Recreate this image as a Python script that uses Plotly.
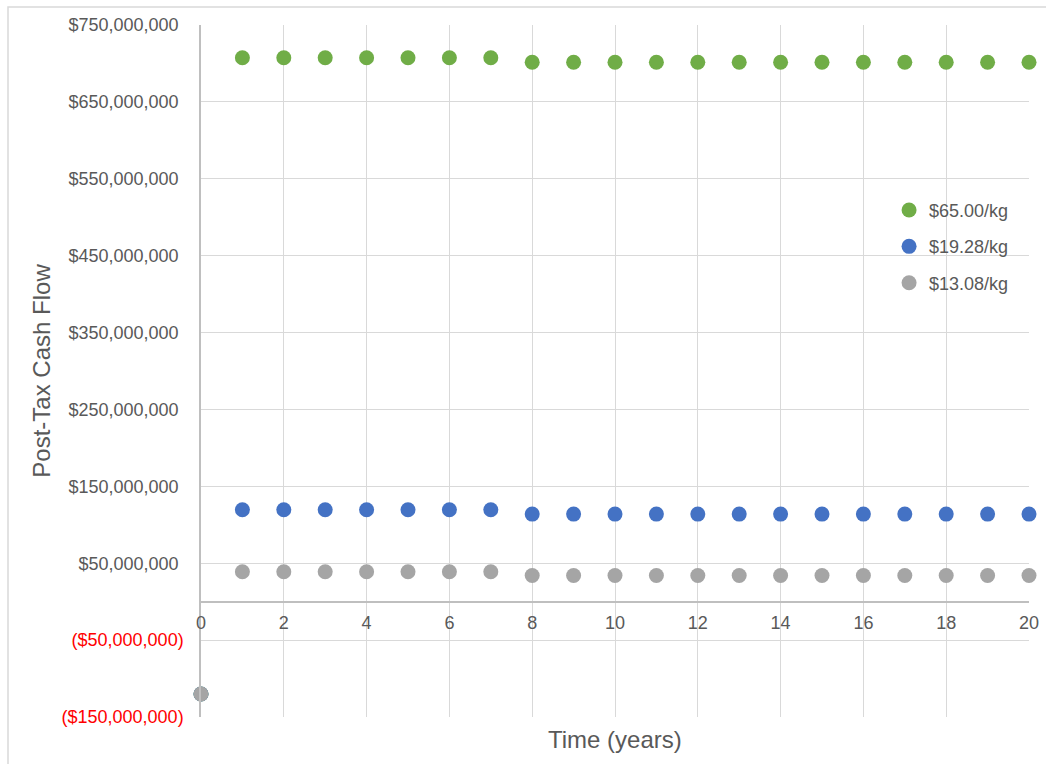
import plotly.graph_objects as go

# Annual post-tax cash flow by selling price
years = list(range(0, 21))
series_names = ["$65.00/kg", "$19.28/kg", "$13.08/kg"]
cash_65 = [-120e6] + [707.5e6] * 7 + [701.6e6] * 13
cash_1928 = [-120e6] + [119.5e6] * 7 + [113.9e6] * 13
cash_1308 = [-120e6] + [38.9e6] * 7 + [34.1e6] * 13
colors = ["#70AD47", "#4472C4", "#A5A5A5"]

y_tick_vals = [-150e6, -50e6, 50e6, 150e6, 250e6, 350e6, 450e6, 550e6, 650e6, 750e6]


def money_label(v):
    if v < 0:
        return '<span style="color:#FF0000">(${:,.0f})</span>'.format(-v)
    return "${:,.0f}\u00a0".format(v)


y_tick_text = [money_label(v) for v in y_tick_vals]

FONT = "Liberation Sans, Arial, sans-serif"
TEXT = "#595959"
GRID = "#D9D9D9"

fig = go.Figure()
for name, vals, col in zip(series_names, [cash_65, cash_1928, cash_1308], colors):
    fig.add_trace(go.Scatter(
        x=years, y=vals, mode="markers", name=name, legendgroup=name,
        marker=dict(size=15, color=col), cliponaxis=False,
    ))

y_min, y_max = -150e6, 750e6
fig.update_layout(
    width=1046, height=764,
    margin=dict(l=201, r=17, t=25, b=47),
    paper_bgcolor="white", plot_bgcolor="white",
    font=dict(family=FONT, size=18, color=TEXT),
    showlegend=True,
    legend=dict(x=0.831, y=0.759, xanchor="left", yanchor="top",
                bgcolor="rgba(0,0,0,0)", font=dict(size=18, color=TEXT),
                tracegroupgap=10, itemwidth=30),
    xaxis=dict(
        range=[0, 20], tickmode="linear", tick0=0, dtick=2,
        showgrid=True, gridcolor=GRID, gridwidth=1,
        zeroline=False, showline=True, linecolor="#BFBFBF", linewidth=1.5,
        anchor="free", position=(0 - y_min) / (y_max - y_min),
        ticks="", ticklabelstandoff=5, tickfont=dict(size=18, color=TEXT),
        automargin=False,
    ),
    yaxis=dict(
        range=[y_min, y_max], tickmode="array", tickvals=y_tick_vals, ticktext=y_tick_text,
        showgrid=True, gridcolor=GRID, gridwidth=1,
        zeroline=False, showline=True, linecolor="#BFBFBF", linewidth=1.5,
        ticks="", ticklabelstandoff=12, tickfont=dict(size=18, color=TEXT),
        title=dict(text="Post-Tax Cash Flow", font=dict(size=24, color=TEXT), standoff=4),
        automargin=False,
    ),
    annotations=[dict(
        text="Time (years)", xref="paper", yref="paper", x=0.5, y=-0.01,
        xanchor="center", yanchor="top", showarrow=False,
        font=dict(size=24, color=TEXT),
    )],
    shapes=[dict(
        type="rect", xref="paper", yref="paper",
        x0=(8 - 201) / 828, x1=1.2, y0=-0.2, y1=(717.3 - 7) / 692.3,
        line=dict(color="#D9D9D9", width=1.5), fillcolor="rgba(0,0,0,0)", layer="below",
    )],
)

fig.write_html("out.html")
